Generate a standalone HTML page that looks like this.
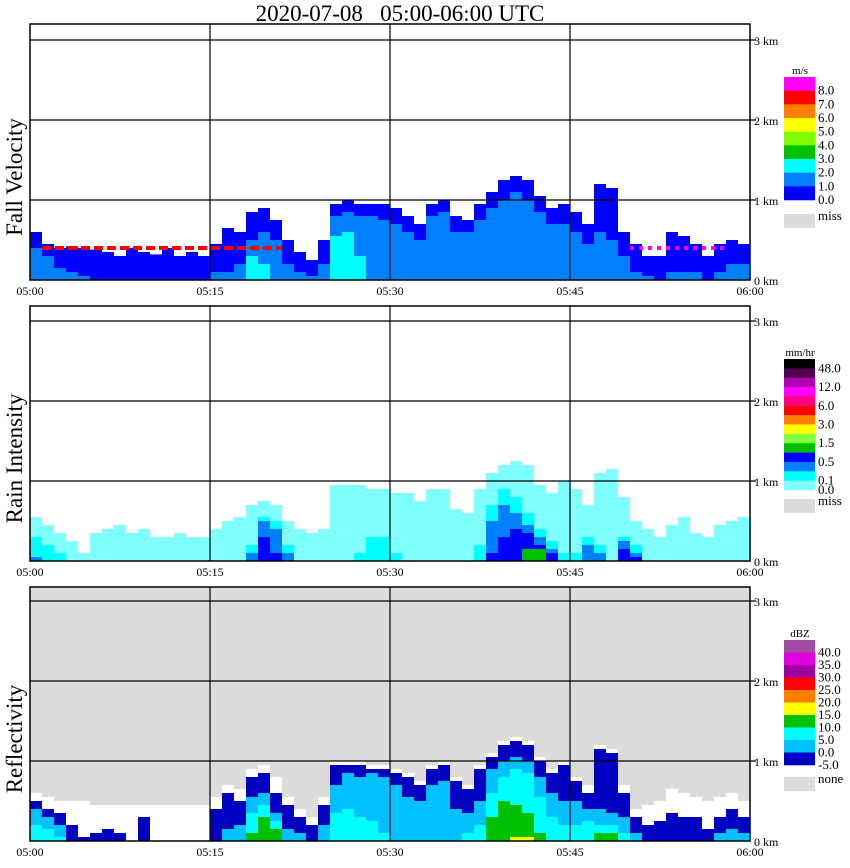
<!DOCTYPE html>
<html><head><meta charset="utf-8"><style>
body{margin:0;background:#fff;width:850px;height:868px;overflow:hidden}
svg{display:block}
text{font-family:"Liberation Serif",serif;fill:#000}
</style></head><body>
<svg id="c" width="850" height="868" xmlns="http://www.w3.org/2000/svg">
<text x="400" y="21" font-size="23" text-anchor="middle" xml:space="preserve">2020-07-08   05:00-06:00 UTC</text>
</svg>
<script>
const minutes = [...Array(60).keys()];
const xTicks = ["05:00","05:15","05:30","05:45","06:00"];
const kmTicks = ["0 km","1 km","2 km","3 km"];
// Panel 1: fall velocity
const fvTop  = [0.6,0.45,0.4,0.42,0.4,0.38,0.35,0.3,0.4,0.35,0.32,0.4,0.3,0.35,0.3,0.45,0.65,0.6,0.85,0.9,0.75,0.5,0.35,0.25,0.5,0.95,1.0,0.95,0.95,0.95,0.9,0.8,0.7,0.95,1.0,0.8,0.75,0.95,1.1,1.25,1.3,1.25,1.05,0.9,0.95,0.85,0.7,1.2,1.15,0.6,0.45,0.3,0.3,0.6,0.55,0.45,0.3,0.45,0.5,0.45];
const fvCore = [0.4,0.3,0.15,0.1,0.05,0,0,0,0,0,0,0,0,0,0,0.1,0.1,0.2,0.5,0.6,0.5,0.2,0.1,0.05,0.2,0.8,0.85,0.8,0.8,0.75,0.7,0.6,0.5,0.8,0.85,0.6,0.6,0.75,0.9,1.0,1.1,1.0,0.85,0.7,0.7,0.6,0.45,0.6,0.5,0.3,0.1,0.05,0,0.1,0.1,0.1,0,0.1,0.2,0.2];
const fvCyan = [0,0,0,0,0,0,0,0,0,0,0,0,0,0,0,0,0,0,0.3,0.2,0,0,0,0,0,0.55,0.6,0.3,0,0,0,0,0,0,0,0,0,0,0,0,0,0,0,0,0,0,0,0,0,0,0,0,0,0,0,0,0,0,0,0];
const mlHeight = 0.4;
const mlRedStart = 1, mlRedEnd = 21, mlMagStart = 50, mlMagEnd = 58;
// Panel 2: rain intensity
const riTop  = [0.55,0.45,0.35,0.25,0.1,0.35,0.4,0.45,0.35,0.4,0.3,0.3,0.35,0.3,0.3,0.4,0.5,0.55,0.7,0.75,0.7,0.5,0.4,0.35,0.4,0.95,0.95,0.95,0.9,0.9,0.85,0.85,0.75,0.9,0.9,0.65,0.6,0.9,1.1,1.2,1.25,1.2,0.95,0.85,1.0,0.9,0.7,1.1,1.15,0.8,0.5,0.4,0.3,0.45,0.55,0.35,0.3,0.45,0.5,0.55];
const riCyan = [0.3,0.2,0.1,0,0,0,0,0,0,0,0,0,0,0,0,0,0,0,0.2,0.55,0.5,0.2,0,0,0,0,0,0.1,0.3,0.3,0.1,0,0,0,0,0,0,0.2,0.7,0.9,0.8,0.6,0.4,0.25,0.1,0.1,0.3,0.2,0,0.3,0.2,0,0,0,0,0,0,0,0,0];
const riMid  = [0.05,0,0,0,0,0,0,0,0,0,0,0,0,0,0,0,0,0,0.1,0.5,0.4,0.1,0,0,0,0,0,0,0,0,0,0,0,0,0,0,0,0,0.5,0.7,0.6,0.45,0.3,0.15,0,0,0.2,0.1,0,0.25,0.1,0,0,0,0,0,0,0,0,0];
const riDark = [0,0,0,0,0,0,0,0,0,0,0,0,0,0,0,0,0,0,0,0.3,0.1,0,0,0,0,0,0,0,0,0,0,0,0,0,0,0,0,0,0.1,0.3,0.4,0.35,0.2,0.1,0,0,0,0,0,0.15,0.05,0,0,0,0,0,0,0,0,0];
const riGreen= [0,0,0,0,0,0,0,0,0,0,0,0,0,0,0,0,0,0,0,0,0,0,0,0,0,0,0,0,0,0,0,0,0,0,0,0,0,0,0,0,0,0.15,0.15,0,0,0,0,0,0,0,0,0,0,0,0,0,0,0,0,0];
// Panel 3: reflectivity
const zWhite = [0.6,0.55,0.5,0.5,0.5,0.45,0.45,0.45,0.45,0.45,0.45,0.45,0.45,0.45,0.45,0.55,0.7,0.65,0.9,0.95,0.8,0.55,0.4,0.3,0.55,1.0,1.0,1.0,0.95,0.95,0.9,0.85,0.75,0.95,1.0,0.8,0.7,0.95,1.1,1.25,1.3,1.25,1.05,0.9,1.0,0.8,0.7,1.2,1.15,0.7,0.4,0.45,0.5,0.65,0.6,0.55,0.5,0.55,0.6,0.5];
const zBlue  = [0.5,0.4,0.35,0.2,0.05,0.1,0.15,0.1,0,0.3,0,0,0,0,0,0.4,0.6,0.5,0.8,0.85,0.6,0.45,0.3,0.2,0.45,0.95,0.95,0.95,0.9,0.9,0.85,0.8,0.7,0.9,0.95,0.75,0.65,0.9,1.05,1.2,1.25,1.2,1.0,0.85,0.95,0.75,0.6,1.15,1.1,0.6,0.3,0.2,0.25,0.35,0.3,0.3,0.15,0.3,0.4,0.3];
const zSky   = [0.4,0.3,0.2,0,0,0,0,0,0,0,0,0,0,0,0,0,0.15,0.2,0.55,0.6,0.35,0.15,0.1,0,0.2,0.7,0.85,0.8,0.85,0.8,0.7,0.55,0.5,0.7,0.75,0.4,0.35,0.5,0.9,1.0,1.05,1.0,0.8,0.6,0.5,0.5,0.4,0.4,0.35,0.3,0.1,0,0,0,0,0,0,0.1,0.15,0.1];
const zCyan  = [0.2,0.15,0.05,0,0,0,0,0,0,0,0,0,0,0,0,0,0,0,0.35,0.45,0.25,0,0,0,0,0.35,0.4,0.3,0.25,0.1,0,0,0,0,0,0,0.1,0.2,0.6,0.8,0.9,0.85,0.55,0.3,0.2,0.2,0.25,0.2,0.2,0.1,0,0,0,0,0,0,0,0,0,0];
const zGreen = [0,0,0,0,0,0,0,0,0,0,0,0,0,0,0,0,0,0,0.1,0.3,0.15,0,0,0,0,0,0,0,0,0,0,0,0,0,0,0,0,0,0.3,0.5,0.45,0.35,0.1,0,0,0,0,0.1,0.1,0,0,0,0,0,0,0,0,0,0,0];
const zYellow= [0,0,0,0,0,0,0,0,0,0,0,0,0,0,0,0,0,0,0,0,0,0,0,0,0,0,0,0,0,0,0,0,0,0,0,0,0,0,0,0,0.05,0.05,0,0,0,0,0,0,0,0,0,0,0,0,0,0,0,0,0,0];

const svg = document.getElementById('c');
const NS = 'http://www.w3.org/2000/svg';
const X0 = 30, X1 = 750, PXMIN = 12, PXKM = 80;
const xs = m => X0 + m * PXMIN;
function mk(tag, attrs){const e=document.createElementNS(NS,tag);for(const k in attrs)e.setAttribute(k,attrs[k]);svg.appendChild(e);return e;}

const panels = [
 {top:24, base:280, bg:'#fff', title:'Fall Velocity', key:'fall-velocity',
  layers:[[fvTop,'#0000ff'],[fvCore,'#0080ff'],[fvCyan,'#00ffff']],
  legTitle:'m/s', legTop:77, legH:123, legColors:['#ff00ff','#ff0000','#ff8000','#ffff00','#80ff00','#00c000','#00ffff','#0080ff','#0000ff'],
  legLabels:['8.0','7.0','6.0','5.0','4.0','3.0','2.0','1.0','0.0'], missLabel:'miss', missY:214},
 {top:306, base:561, bg:'#fff', title:'Rain Intensity', key:'rain-intensity',
  layers:[[riTop,'#80ffff'],[riCyan,'#00ffff'],[riMid,'#0080ff'],[riDark,'#0000ff'],[riGreen,'#00c000']],
  legTitle:'mm/hr', legTop:359, legH:131, legColors:['#000000','#500050','#b000b0','#ff00ff','#ff0080','#ff0000','#ff8000','#ffff00','#80ff40','#00c000','#0000ff','#0080ff','#00ffff','#80ffff'],
  legLabels:['48.0','','12.0','','6.0','','3.0','','1.5','','0.5','','0.1','0.0'], missLabel:'miss', missY:499},
 {top:587, base:841, bg:'#dcdcdc', title:'Reflectivity', key:'reflectivity',
  layers:[[zWhite,'#ffffff'],[zBlue,'#0000c0'],[zSky,'#00c0ff'],[zCyan,'#00ffff'],[zGreen,'#00c000'],[zYellow,'#ffff00']],
  legTitle:'dBZ', legTop:640, legH:125, legColors:['#a04ca0','#e000e0','#a000a0','#ff0000','#ff8000','#ffff00','#00c000','#00ffff','#00c0ff','#0000c0'],
  legLabels:['40.0','35.0','30.0','25.0','20.0','15.0','10.0','5.0','0.0','-5.0'], missLabel:'none', missY:777}
];

panels.forEach(p=>{
  const yk = km => p.base - km * PXKM;
  const bg = mk('rect',{x:X0,y:p.top,width:X1-X0,height:p.base-p.top,fill:p.bg});
  
  
  p.layers.forEach(([arr,col],li)=>{
    arr.forEach((v,i)=>{
      if(v<=0) return;
      const r = mk('rect',{x:xs(minutes[i]),y:yk(v),width:PXMIN,height:p.base-yk(v),fill:col});
      
      
    });
  });
  if(p.key==='fall-velocity'){
    const d1 = mk('line',{x1:xs(mlRedStart),x2:xs(mlRedEnd),y1:yk(mlHeight),y2:yk(mlHeight),stroke:'#ff0000','stroke-width':4,'stroke-dasharray':'9 4'});
    
    
    const d2 = mk('line',{x1:xs(mlMagStart),x2:xs(mlMagEnd),y1:yk(mlHeight),y2:yk(mlHeight),stroke:'#ff00ff','stroke-width':4,'stroke-dasharray':'4 5'});
    
    
  }
  [1,2,3].forEach(k=>{
    const g = mk('line',{x1:X0,x2:X1+6,y1:yk(k),y2:yk(k),stroke:'#000','stroke-width':1.2});
    
    
  });
  [15,30,45].forEach(m=>{
    const g = mk('line',{x1:xs(m),x2:xs(m),y1:p.top,y2:p.base,stroke:'#000','stroke-width':1.2});
    
    
  });
  const fr = mk('rect',{x:X0,y:p.top,width:X1-X0,height:p.base-p.top,fill:'none',stroke:'#000','stroke-width':1.5});
  
  
  kmTicks.forEach((t,k)=>{
    const tx = mk('text',{x:754,y:yk(k)+5,'font-size':12});
    tx.textContent = t;
    
    
  });
  xTicks.forEach((t,k)=>{
    const tx = mk('text',{x:xs(k*15),y:p.base+15,'font-size':12,'text-anchor':'middle'});
    tx.textContent = t;
    
    
  });
  const cy = (p.top+p.base)/2+25;
  const yt = mk('text',{x:0,y:0,'font-size':23,'text-anchor':'middle',transform:`translate(22,${cy}) rotate(-90)`});
  yt.textContent = p.title;
  
  
  const lt = mk('text',{x:800,y:p.legTop-3,'font-size':11,'text-anchor':'middle'});
  lt.textContent = p.legTitle;
  
  
  const bh = p.legH / p.legColors.length;
  p.legColors.forEach((c,i)=>{
    const r = mk('rect',{x:784,y:p.legTop+i*bh,width:31,height:bh+0.3,fill:c});
    
    
    if(p.legLabels[i]){
      const t = mk('text',{x:818,y:p.legTop+(i+1)*bh+4,'font-size':13});
      t.textContent = p.legLabels[i];
      
      
    }
  });
  const mr = mk('rect',{x:784,y:p.missY,width:31,height:14,fill:'#dcdcdc'});
  
  
  const mt = mk('text',{x:818,y:p.missY+6,'font-size':13});
  mt.textContent = p.missLabel;
  
  
});
</script>
</body></html>
